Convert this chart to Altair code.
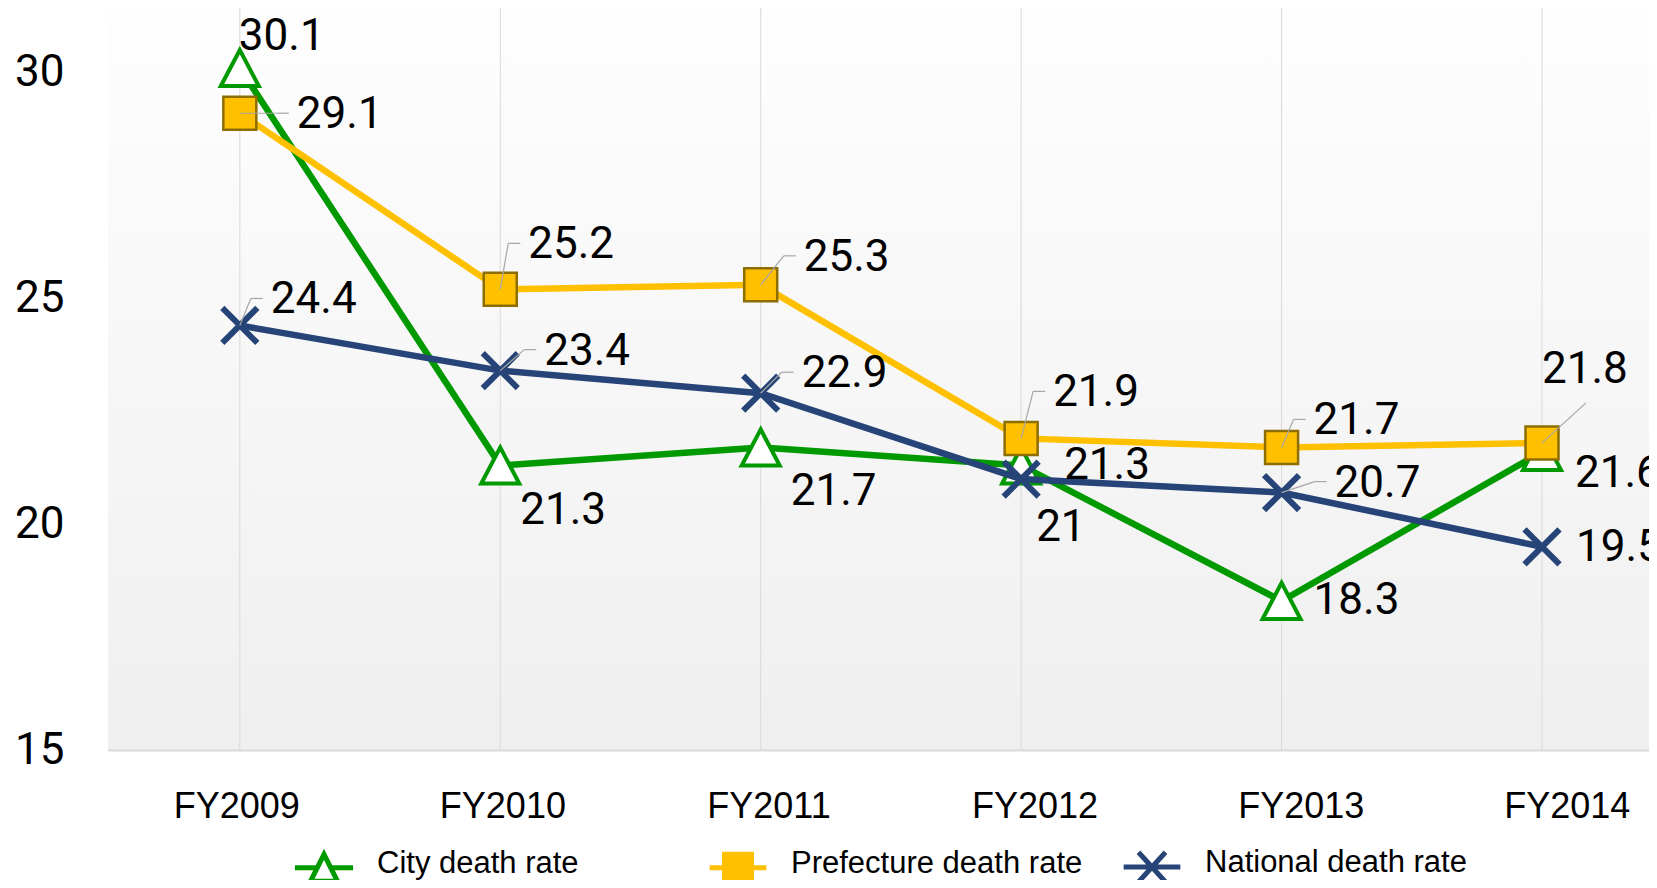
import altair as alt
import pandas as pd

# ---------------- data ----------------
years = ["FY2009", "FY2010", "FY2011", "FY2012", "FY2013", "FY2014"]
series_names = ["City death rate", "Prefecture death rate", "National death rate"]
city = [30.1, 21.3, 21.7, 21.3, 18.3, 21.6]
prefecture = [29.1, 25.2, 25.3, 21.9, 21.7, 21.8]
national = [24.4, 23.4, 22.9, 21.0, 20.7, 19.5]

# label placement relative to each point (pixels): left edge / vertical centre
city_label_dx = [-1, 20, 30, 43, 32, 33]
city_label_dy = [-31, 46, 45, 1, 0, 22]
pref_label_dx = [57, 28, 43, 32, 32, 0]
pref_label_dy = [2, -44, -27, -45, -26, -73]
nat_label_dx = [31, 44, 41, 15, 53, 34]
nat_label_dy = [-25, -19, -19, 49, -9, 1]
# leader line style per label
city_leader = ["none"] * 6
pref_leader = ["side", "side", "side", "side", "side", "below"]
nat_leader = ["side", "side", "side", "none", "side", "none"]

colors = {"City death rate": "#009900", "Prefecture death rate": "#ffc000",
          "National death rate": "#264478"}

rows = []
for name, vals, ldx, ldy, lead in [
    ("City death rate", city, city_label_dx, city_label_dy, city_leader),
    ("Prefecture death rate", prefecture, pref_label_dx, pref_label_dy, pref_leader),
    ("National death rate", national, nat_label_dx, nat_label_dy, nat_leader),
]:
    for i, y in enumerate(years):
        rows.append({"year": y, "series": name, "value": vals[i],
                     "label": f"{vals[i]:g}", "ldx": ldx[i], "ldy": ldy[i],
                     "lead": lead[i]})
df = pd.DataFrame(rows)

# leader segments derived from label placement
seg_rows = []
for r in rows:
    cy = r["ldy"] - 2
    if r["lead"] == "side":
        ex = r["ldx"] - 20
        seg_rows.append({**r, "ox1": 0, "oy1": 0, "ox2": ex, "oy2": cy})
        seg_rows.append({**r, "ox1": ex, "oy1": cy, "ox2": r["ldx"] - 8, "oy2": cy})
    elif r["lead"] == "below":
        seg_rows.append({**r, "ox1": 0, "oy1": 0, "ox2": r["ldx"] + 44, "oy2": cy + 35})
seg_df = pd.DataFrame(seg_rows)

W, H = 1541, 742

xenc = alt.X("year:N", sort=years, title=None,
             scale=alt.Scale(type="point", padding=0.4585, align=0.552),
             axis=alt.Axis(orient="bottom", labels=False, ticks=False, grid=False,
                           domain=True, domainColor="#d9d9d9", domainWidth=2, zindex=1))
yenc = alt.Y("value:Q", title=None,
             scale=alt.Scale(domain=[15, 31.43], nice=False, zero=False),
             axis=alt.Axis(values=[15, 20, 25, 30], labelFont="Roboto", labelFontSize=44,
                           labelColor="black", labelPadding=44, ticks=False, grid=False,
                           domain=False))

bg = alt.Chart(pd.DataFrame({"a": [0]})).mark_rect(
    color=alt.Gradient(gradient="linear", x1=0, x2=0, y1=0, y2=1,
                       stops=[alt.GradientStop(offset=0, color="#fefefe"),
                              alt.GradientStop(offset=1, color="#efefef")])
).encode(x=alt.value(0), x2=alt.value(W), y=alt.value(0), y2=alt.value(H))

grid = alt.Chart(pd.DataFrame({"year": years})).mark_rule(
    color="#d9d9d9", strokeWidth=1).encode(x=xenc)

layers = [bg, grid]
order = ["City death rate", "National death rate", "Prefecture death rate"]
point_marks = {
    "City death rate": dict(shape="M0,-0.95L-1,0.95L1,0.95Z", size=1444, filled=True,
                            fill="white", stroke="#009900", strokeWidth=4),
    "Prefecture death rate": dict(shape="square", size=1089, filled=True,
                                  fill="#ffc000", stroke="#8c6d00", strokeWidth=2.5),
    "National death rate": dict(shape="M-1,-1L1,1M-1,1L1,-1", size=1225, filled=False,
                                stroke="#264478", strokeWidth=6),
}
for name in order:
    sub = df[df["series"] == name]
    layers.append(alt.Chart(sub).mark_line(color=colors[name], strokeWidth=6.5)
                  .encode(x=xenc, y=yenc))
    layers.append(alt.Chart(sub).mark_point(opacity=1, **point_marks[name])
                  .encode(x=xenc, y=yenc))

leaders = alt.Chart(seg_df).mark_rule(
    color="#a6a6a6", strokeWidth=1.2,
    xOffset={"expr": "datum.ox1"}, yOffset={"expr": "datum.oy1"},
    x2Offset={"expr": "datum.ox2"}, y2Offset={"expr": "datum.oy2"},
).encode(x=xenc, y=yenc, x2="year:N", y2="value:Q")
layers.append(leaders)

labels = alt.Chart(df).mark_text(
    align="left", baseline="middle", font="Roboto", fontSize=44, color="black",
    dx={"expr": "datum.ldx"}, dy={"expr": "datum.ldy"},
).encode(x=xenc, y=yenc, text="label:N")
layers.append(labels)

# legend (symbols drawn as a line with the marker)
legend_paths = [
    "M-2.15,0.3H-0.5M0.5,0.3H2.15M0,-0.7L-1,1.3L1,1.3Z",
    "M-2.1,0.3H-1M1,0.3H2.1M-1,-0.7H1V1.3H-1Z",
    "M-2.1,0.3H2.1M-1,-0.8L1,1.4M-1,1.4L1,-0.8",
]
legend_fills = ["white", "#ffc000", "transparent"]
legend_strokes = ["#009900", "#ffc000", "#264478"]
leg = alt.Legend(title=None, orient="none", legendX=200, legendY=839,
                 direction="horizontal", gridAlign="all", columnPadding=30,
                 symbolSize=729, symbolStrokeWidth=5, symbolOpacity=1,
                 labelFont="Liberation Sans", labelFontSize=31, labelColor="black",
                 labelOffset=37, padding=0, labelLimit=500)
legend_layer = alt.Chart(df).transform_filter("false").mark_point(
    opacity=1, strokeWidth=5, size=729, filled=True
).encode(
    x=xenc, y=yenc,
    shape=alt.Shape("series:N", scale=alt.Scale(domain=series_names, range=legend_paths), legend=leg),
    fill=alt.Fill("series:N", scale=alt.Scale(domain=series_names, range=legend_fills), legend=leg),
    stroke=alt.Stroke("series:N", scale=alt.Scale(domain=series_names, range=legend_strokes), legend=leg),
)
layers.append(legend_layer)

main = alt.layer(*layers)

# category labels of the x axis (placed on their own scale, as in the original)
xlab = alt.X("year:N", sort=years, title=None,
             scale=alt.Scale(type="point", domain=years, padding=0.3955, align=0.6095),
             axis=alt.Axis(orient="bottom", labelAngle=0, labelFont="Liberation Sans",
                           labelFontSize=36, labelColor="black", labelPadding=39,
                           ticks=False, grid=False, domain=False))
axis_labels = alt.Chart(df).mark_point(opacity=0).encode(x=xlab, y=yenc)

chart = alt.layer(main, axis_labels).resolve_scale(x="independent").properties(
    width=W, height=H,
    autosize=alt.AutoSizeParams(type="none"),
    padding={"left": 100, "top": 0, "right": 0, "bottom": 130},
).configure_view(stroke=None).configure(background="white")

chart.save("out.html", embed_options={"renderer": "svg", "actions": False})
